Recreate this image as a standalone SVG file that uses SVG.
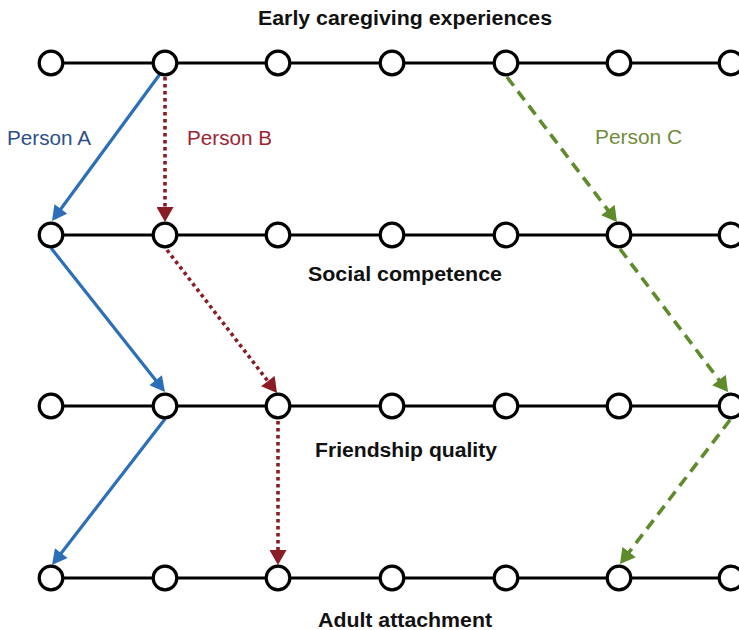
<svg xmlns="http://www.w3.org/2000/svg" width="739" height="630" viewBox="0 0 739 630">
  <style>
    .rail { stroke: #000; stroke-width: 3.2; fill: none; }
    .node circle { fill: #fff; stroke: #000; stroke-width: 3.2; }
    .title { font-family: "Liberation Sans", Arial, Helvetica, sans-serif; font-weight: bold; font-size: 20px; fill: #111; text-anchor: middle; }
    .who { font-family: "Liberation Sans", Arial, Helvetica, sans-serif; font-size: 20px; }
    .a { stroke: #2a6fb8; stroke-width: 3.2; fill: none; }
    .b { stroke: #8a1c24; stroke-width: 3.6; fill: none; stroke-dasharray: 3.5 3.5; }
    .c { stroke: #5e8b2b; stroke-width: 3.6; fill: none; stroke-dasharray: 11 7; }
  </style>
  <defs>
    <marker id="headA" markerUnits="userSpaceOnUse" markerWidth="16" markerHeight="16" viewBox="0 0 15 16" refX="2" refY="8" orient="auto">
      <path d="M0,0 L15,8 L0,16 z" fill="#2a6fb8"/>
    </marker>
    <marker id="headB" markerUnits="userSpaceOnUse" markerWidth="16" markerHeight="17" viewBox="0 0 15 17" refX="2" refY="8.5" orient="auto">
      <path d="M0,0 L15,8.5 L0,17 z" fill="#8a1c24"/>
    </marker>
    <marker id="headC" markerUnits="userSpaceOnUse" markerWidth="16" markerHeight="17" viewBox="0 0 15 17" refX="2" refY="8.5" orient="auto">
      <path d="M0,0 L15,8.5 L0,17 z" fill="#5e8b2b"/>
    </marker>
  </defs>

  <rect width="739" height="630" fill="#fff"/>

  <!-- horizontal timelines -->
  <g id="rails">
    <line class="rail" x1="51" y1="63" x2="731" y2="63"/>
    <line class="rail" x1="51" y1="235" x2="731" y2="235"/>
    <line class="rail" x1="51" y1="406" x2="731" y2="406"/>
    <line class="rail" x1="51" y1="578" x2="731" y2="578"/>
  </g>

  <!-- connectors -->
  <g id="connectors">
    <line class="a" x1="160" y1="74" x2="59.7" y2="210.5" marker-end="url(#headA)"/>
    <line class="a" x1="51" y1="248" x2="156.9" y2="381.8" marker-end="url(#headA)"/>
    <line class="a" x1="165" y1="419" x2="60" y2="554.7" marker-end="url(#headA)"/>

    <line class="b" x1="165" y1="77" x2="165" y2="209" marker-end="url(#headB)"/>
    <line class="b" x1="167" y1="250" x2="269.1" y2="382.7" marker-end="url(#headB)"/>
    <line class="b" x1="278" y1="421" x2="278" y2="552" marker-end="url(#headB)"/>

    <line class="c" x1="507" y1="77" x2="609.1" y2="211.6" marker-end="url(#headC)"/>
    <line class="c" x1="620" y1="249" x2="720.2" y2="381.6" marker-end="url(#headC)"/>
    <line class="c" x1="730" y1="420" x2="627.9" y2="553.7" marker-end="url(#headC)"/>
  </g>

  <!-- row 1: early caregiving experiences -->
  <g id="row1" class="node">
    <circle id="n1-1" cx="51" cy="63" r="11.8"/>
    <circle id="n1-2" cx="165" cy="63" r="11.8"/>
    <circle id="n1-3" cx="278" cy="63" r="11.8"/>
    <circle id="n1-4" cx="392" cy="63" r="11.8"/>
    <circle id="n1-5" cx="506" cy="63" r="11.8"/>
    <circle id="n1-6" cx="619" cy="63" r="11.8"/>
    <circle id="n1-7" cx="731" cy="63" r="11.8"/>
  </g>
  <!-- row 2: social competence -->
  <g id="row2" class="node">
    <circle id="n2-1" cx="51" cy="235" r="11.8"/>
    <circle id="n2-2" cx="165" cy="235" r="11.8"/>
    <circle id="n2-3" cx="278" cy="235" r="11.8"/>
    <circle id="n2-4" cx="392" cy="235" r="11.8"/>
    <circle id="n2-5" cx="506" cy="235" r="11.8"/>
    <circle id="n2-6" cx="619" cy="235" r="11.8"/>
    <circle id="n2-7" cx="731" cy="235" r="11.8"/>
  </g>
  <!-- row 3: friendship quality -->
  <g id="row3" class="node">
    <circle id="n3-1" cx="51" cy="406" r="11.8"/>
    <circle id="n3-2" cx="165" cy="406" r="11.8"/>
    <circle id="n3-3" cx="278" cy="406" r="11.8"/>
    <circle id="n3-4" cx="392" cy="406" r="11.8"/>
    <circle id="n3-5" cx="506" cy="406" r="11.8"/>
    <circle id="n3-6" cx="619" cy="406" r="11.8"/>
    <circle id="n3-7" cx="731" cy="406" r="11.8"/>
  </g>
  <!-- row 4: adult attachment -->
  <g id="row4" class="node">
    <circle id="n4-1" cx="51" cy="578" r="11.8"/>
    <circle id="n4-2" cx="165" cy="578" r="11.8"/>
    <circle id="n4-3" cx="278" cy="578" r="11.8"/>
    <circle id="n4-4" cx="392" cy="578" r="11.8"/>
    <circle id="n4-5" cx="506" cy="578" r="11.8"/>
    <circle id="n4-6" cx="619" cy="578" r="11.8"/>
    <circle id="n4-7" cx="731" cy="578" r="11.8"/>
  </g>

  <!-- row titles -->
  <g id="titles">
    <text class="title" x="405" y="25" textLength="294" lengthAdjust="spacingAndGlyphs">Early caregiving experiences</text>
    <text class="title" x="405" y="281" textLength="194" lengthAdjust="spacingAndGlyphs">Social competence</text>
    <text class="title" x="406" y="457" textLength="182" lengthAdjust="spacingAndGlyphs">Friendship quality</text>
    <text class="title" x="405" y="627" textLength="174" lengthAdjust="spacingAndGlyphs">Adult attachment</text>
  </g>

  <!-- person labels -->
  <g id="labels">
    <text class="who" x="7" y="145" fill="#2f4f8c" textLength="84" lengthAdjust="spacingAndGlyphs">Person A</text>
    <text class="who" x="187" y="145" fill="#9c2434" textLength="85" lengthAdjust="spacingAndGlyphs">Person B</text>
    <text class="who" x="595" y="144" fill="#718c3c" textLength="87" lengthAdjust="spacingAndGlyphs">Person C</text>
  </g>
</svg>
